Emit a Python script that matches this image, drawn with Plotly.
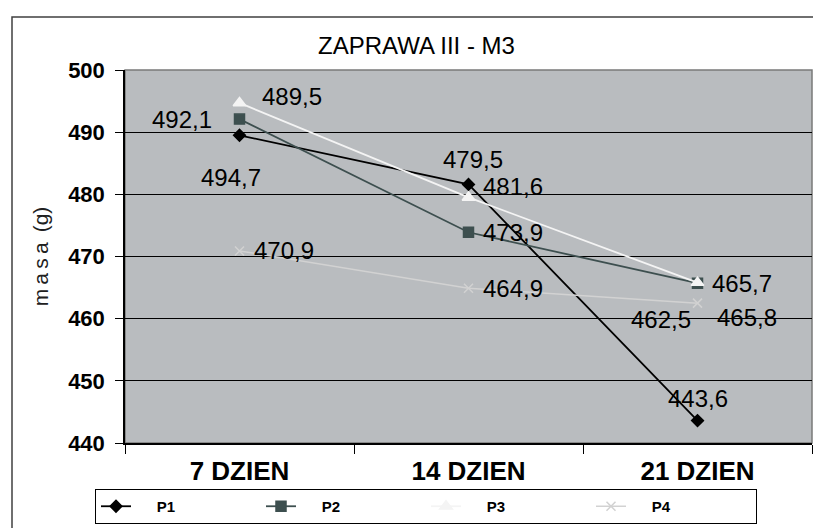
import plotly.graph_objects as go

categories = ["7 DZIEN", "14 DZIEN", "21 DZIEN"]
series_names = ["P1", "P2", "P3", "P4"]
p1 = [489.5, 481.6, 443.6]
p2 = [492.1, 473.9, 465.7]
p3 = [494.7, 479.5, 465.8]
p4 = [470.9, 464.9, 462.5]
y_ticks = [440, 450, 460, 470, 480, 490, 500]

values = [p1, p2, p3, p4]
colors = ["#000000", "#3d4f4f", "#f4f4f4", "#d2d2d2"]
symbols = ["diamond", "square", "triangle-up", "x-thin-open"]
msizes = [9, 10, 11, 9]
lwidths = [1.8, 1.8, 1.8, 1.5]

# label placement offsets (px): (xanchor, xshift, yshift) per series per point
label_pos = [
    [("center", 52, 39), ("left", 12, -2), ("center", 0, 22)],
    [("right", -26, 0), ("left", 12, 0), ("left", 12, 0)],
    [("center", -9, -75), ("center", 4, 38), ("left", 17, -35)],
    [("left", 12, 0), ("left", 12, 0), ("right", -5, -16)],
]

# plot area on screen: x 125..812, y 70..443 ; page body offset is 8px
def xp(X):
    return (X - 125) / 687

def yp(Y):
    return (443 - Y) / 373

fig = go.Figure()
for name, vals, c, s, ms, lw in zip(series_names, values, colors, symbols, msizes, lwidths):
    fig.add_trace(go.Scatter(
        x=categories, y=vals, name="     " + name, mode="lines+markers",
        line=dict(color=c, width=lw),
        marker=dict(symbol=s, size=ms, color=c, line=dict(color=c, width=1.5)),
    ))

annotations = []
for vals, pos in zip(values, label_pos):
    for cat, v, (xa, xs, ys) in zip(categories, vals, pos):
        annotations.append(dict(
            x=cat, y=v, xref="x", yref="y", text=f"{v:.1f}".replace(".", ","),
            showarrow=False, xanchor=xa, yanchor="middle", xshift=xs, yshift=ys,
            font=dict(family="Liberation Sans, Arial", size=24, color="#000000"),
        ))

annotations.append(dict(
    text="ZAPRAWA III - M3", xref="paper", yref="paper",
    x=xp(416), y=yp(46), xanchor="center", yanchor="middle",
    showarrow=False, font=dict(family="Liberation Sans, Arial", size=24, color="#000000"),
))

shapes = [
    # outer chart frame
    dict(type="rect", xref="paper", yref="paper",
         x0=xp(12), x1=xp(840), y0=yp(560), y1=yp(17),
         line=dict(color="#404040", width=1.5), layer="below"),
    # plot area border
    dict(type="rect", xref="paper", yref="paper", x0=0, x1=1, y0=0, y1=1,
         line=dict(color="#7a7a7a", width=1.5), layer="below"),
]

fig.update_layout(
    width=813, height=520,
    margin=dict(l=117, r=9, t=62, b=85, autoexpand=False),
    paper_bgcolor="#ffffff",
    plot_bgcolor="#b9bcbf",
    showlegend=True,
    legend=dict(
        orientation="h", x=xp(95), y=yp(489),
        xanchor="left", yanchor="top",
        bordercolor="#000000", borderwidth=1, bgcolor="#ffffff",
        entrywidth=120, entrywidthmode="pixels",
        font=dict(family="Liberation Sans, Arial", size=15, color="#000000", weight="bold"),
    ),
    annotations=annotations,
    shapes=shapes,
    xaxis=dict(
        type="category", range=[-0.5, 2.5],
        showgrid=False, showline=True, linecolor="#000000", linewidth=1.5,
        ticks="outside", tickson="boundaries", ticklen=9, tickcolor="#000000",
        tickfont=dict(family="Liberation Sans, Arial", size=26, color="#000000", weight="bold"),
        ticklabelstandoff=4,
    ),
    yaxis=dict(
        range=[440, 500], tickvals=y_ticks, ticktext=[str(t) for t in y_ticks],
        showgrid=True, gridcolor="#000000", gridwidth=1,
        showline=True, linecolor="#000000", linewidth=1.5,
        ticks="outside", ticklen=8, tickcolor="#000000",
        tickfont=dict(family="Liberation Sans, Arial", size=22, color="#000000", weight="bold"),
        ticklabelstandoff=6,
        title=dict(text="m\u2009a\u2009s\u2009a\u2009 (g)", standoff=14,
                   font=dict(family="Liberation Sans, Arial", size=21, color="#202020")),
        zeroline=False,
    ),
)

fig.write_html("out.html")
